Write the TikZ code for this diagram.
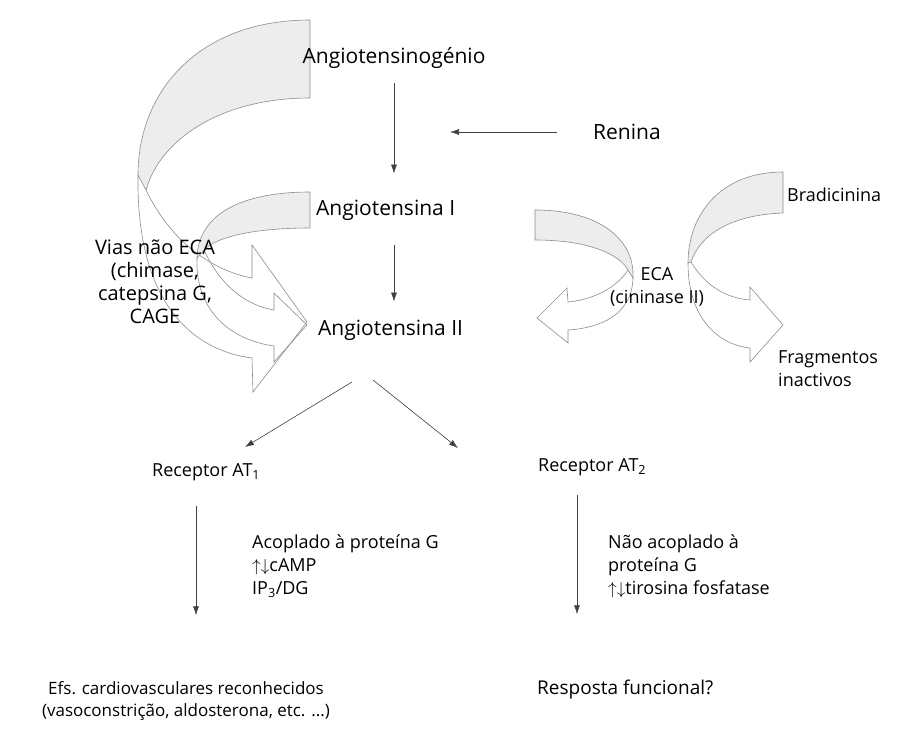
\documentclass[tikz,border=0pt]{standalone}
\usepackage{fontspec}
\setmainfont{Open Sans}
\usetikzlibrary{arrows.meta}
\tikzset{
  seta/.style={->, draw=black!75, line width=0.6pt},
  fita/.style={draw=black!45, fill=black!7, line width=0.6pt},
  frente/.style={draw=black!45, line width=0.6pt},
  txt/.style={inner sep=0pt, font=\fontsize{18}{23}\selectfont},
  txtg/.style={inner sep=0pt, font=\fontsize{21}{25}\selectfont},
}
\begin{document}
\begin{tikzpicture}[x=1pt, y=-1pt, >={Latex[length=9pt,width=6pt]}]
  \useasboundingbox (0,0) rectangle (924,742);

  % setas curvas (vias nao ECA)
  \draw[fita] (310,20) .. controls (200,20) and (138,90) .. (138,175)
    -- (146,190) .. controls (160,140) and (220,98) .. (310,98) -- cycle;
  \draw[frente] (138,175) .. controls (136,300) and (190,350) .. (252,358)
    -- (253,392) -- (307,322) -- (252,245) -- (252,278)
    .. controls (210,270) and (170,240) .. (146,190);
  \draw[fita] (310,192) .. controls (240,192) and (198,215) .. (197,258)
    -- (204,250) .. controls (215,238) and (250,228) .. (310,228) -- cycle;
  \draw[frente] (197,258) .. controls (195,310) and (230,340) .. (274,346)
    -- (274,362) -- (307,325) -- (274,293) -- (274,310)
    .. controls (245,305) and (220,285) .. (204,250);

  % setas curvas (ECA)
  \draw[fita] (535,210) .. controls (600,210) and (635,240) .. (633,278)
    -- (628,270) .. controls (620,255) and (590,240) .. (535,240) -- cycle;
  \draw[frente] (633,278) .. controls (632,315) and (600,328) .. (568,330)
    -- (568,343) -- (537,318) -- (567,288) -- (568,302)
    .. controls (590,300) and (615,290) .. (628,270);
  \draw[fita] (783,172) .. controls (720,172) and (688,215) .. (688,263)
    -- (691,262) .. controls (700,235) and (730,215) .. (783,213) -- cycle;
  \draw[frente] (688,263) .. controls (688,320) and (720,345) .. (750,348)
    -- (750,362) -- (783,325) -- (750,287) -- (750,300)
    .. controls (725,298) and (705,285) .. (691,262);

  \node[txtg] (angn) at (394,58) {Angiotensinogénio};
  \node[txtg] (ren) at (627,132) {Renina};
  \node[txtg, anchor=west] (ang1) at (316,210) {Angiotensina I};
  \node[txtg, anchor=west] (ang2) at (318,330) {Angiotensina II};
  \node[txt, align=center] (eca) at (657,287) {ECA\\(cininase II)};
  \node[txt, anchor=west] (brad) at (787,195) {Bradicinina};
  \node[txt, anchor=west, align=left] (frag) at (778,369) {Fragmentos\\inactivos};
  \node[txt, align=center, font=\fontsize{20}{23}\selectfont] (vias) at (155,282)
    {Vias não ECA\\(chimase,\\catepsina G,\\CAGE};

  \node[txt, anchor=west] (at1) at (152,472) {Receptor AT\textsubscript{1}};
  \node[txt, anchor=west] (at2) at (538,467) {Receptor AT\textsubscript{2}};
  \node[txt, anchor=west, align=left] (acop) at (252,566)
    {Acoplado à proteína G\\$\uparrow\downarrow$cAMP\\IP\textsubscript{3}/DG};
  \node[txt, anchor=west, align=left] (nacop) at (608,566)
    {Não acoplado à\\proteína G\\$\uparrow\downarrow$tirosina fosfatase};
  \node[txt, align=center, font=\fontsize{17}{22}\selectfont] (efs) at (186,701)
    {Efs. cardiovasculares reconhecidos\\(vasoconstrição, aldosterona, etc. ...)};
  \node[txt, anchor=west, font=\fontsize{19}{23}\selectfont] (resp) at (537,690) {Resposta funcional?};

  % pontas livres
  \coordinate (renp) at (450,132);
  \coordinate (d1) at (352,382);
  \coordinate (d2) at (373,380);
  \coordinate (e1) at (245,447);
  \coordinate (e2) at (458,448);

  \draw[seta, shorten <=14pt, shorten >=26pt] (angn.south) -- (angn.south |- ang1.north);
  \draw[seta, shorten <=36pt] (ren.west) -- (renp);
  \draw[seta, shorten <=25pt, shorten >=18pt] (angn.south |- ang1.south) -- (angn.south |- ang2.north);
  \draw[seta] (d1) -- (e1);
  \draw[seta] (d2) -- (e2);
  \draw[seta, shorten <=34pt, shorten >=66pt] ([xshift=44pt]at1.west) -- ([xshift=44pt]at1.west |- efs.north);
  \draw[seta, shorten <=28pt, shorten >=66pt] ([xshift=39pt]at2.west) -- ([xshift=39pt]at2.west |- resp.north);
\end{tikzpicture}
\end{document}
